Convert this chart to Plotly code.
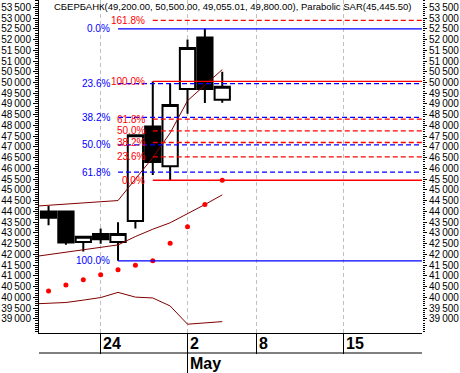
import plotly.graph_objects as go

# ---------------- data ----------------
day_idx = list(range(11))               # trading days: Apr 19 .. May 4
open_ = [44000, 44000, 42580, 42950, 42580, 43550, 47950, 46100, 49700, 52100, 49200]
high = [44250, 44000, 42820, 43200, 43500, 47560, 50050, 49930, 52000, 52500, 50500]
low = [43350, 42450, 42130, 42500, 41700, 43200, 45700, 45450, 48550, 49050, 49055.01]
close = [43700, 42550, 42820, 42700, 42950, 47550, 46300, 48950, 51600, 49700, 49800]

sar = [40300, 40580, 40820, 41050, 41280, 41490, 41700, 42520, 43280, 44320, 45445.50]

band_idx = list(range(-1, 11))
bb_upper = [44230, 44285, 44340, 44395, 44450, 44505, 45510, 46500, 47650, 49150, 49880, 50600]
bb_mid = [41875, 41990, 42100, 42215, 42330, 42440, 42830, 43170, 43470, 43880, 44320, 44770]
bb_lower = [39690, 39730, 39760, 39870, 39990, 40230, 40010, 39970, 39600, 38750, 38825, 38870]

date_tick_idx = [3, 8, 12, 17]
date_tick_text = ["24", "2", "8", "15"]
month_tick_idx = [8]
month_tick_text = ["May"]

price_ticks = list(range(39000, 54000, 500))
price_tick_text = [f"{v // 1000}\u2009{v % 1000:03d}" for v in price_ticks]

# Fibonacci retracements
blue_ratios = [0.0, 23.6, 38.2, 50.0, 61.8, 100.0]
red_ratios = [0.0, 23.6, 38.2, 50.0, 61.8, 100.0, 161.8]
blue_hi_i, blue_lo_i = 9, 4
red_hi_i, red_lo_i = 6, 7

X_RANGE = [-0.55, 21.5]
Y_RANGE = [38340, 53840]
FONT = "Liberation Sans, Arial, sans-serif"

fig = go.Figure()

fig.add_trace(go.Candlestick(
    x=day_idx, open=open_, high=high, low=low, close=close,
    increasing=dict(line=dict(color="black", width=2), fillcolor="white"),
    decreasing=dict(line=dict(color="black", width=2), fillcolor="black"),
    whiskerwidth=0, showlegend=False, hoverinfo="skip",
))

for band in (bb_upper, bb_mid, bb_lower):
    fig.add_trace(go.Scatter(x=band_idx, y=band, mode="lines",
                             line=dict(color="#800000", width=1),
                             showlegend=False, hoverinfo="skip"))

fig.add_trace(go.Scatter(x=day_idx, y=sar, mode="markers",
                         marker=dict(color="#ff0000", size=5, symbol="circle"),
                         showlegend=False, hoverinfo="skip"))

# invisible trace to carry the right-hand axis
fig.add_trace(go.Scatter(x=[None], y=[None], yaxis="y2", showlegend=False, hoverinfo="skip"))

# blue fib set
b_hi, b_lo = high[blue_hi_i], low[blue_lo_i]
for r in blue_ratios:
    lvl = b_hi - r / 100 * (b_hi - b_lo)
    solid = r in (0.0, 100.0)
    fig.add_shape(type="line", xref="x", yref="y", x0=blue_lo_i, x1=X_RANGE[1] + 1,
                  y0=lvl, y1=lvl,
                  line=dict(color="#0000ff", width=1.3, dash="solid" if solid else "5px,3px"))
    fig.add_annotation(x=blue_lo_i, y=lvl, xref="x", yref="y", text=f"{r:.1f}%",
                       showarrow=False, xanchor="right", yanchor="middle", xshift=-6,
                       font=dict(family=FONT, size=10, color="#0000ff"))

# red fib set
r_hi, r_lo = high[red_hi_i], low[red_lo_i]
for r in red_ratios:
    lvl = r_lo + r / 100 * (r_hi - r_lo)
    solid = r in (0.0, 100.0)
    fig.add_shape(type="line", xref="x", yref="y", x0=red_hi_i, x1=X_RANGE[1] + 1,
                  y0=lvl, y1=lvl,
                  line=dict(color="#ff0000", width=1.3, dash="solid" if solid else "5px,3px"))
    fig.add_annotation(x=red_hi_i, y=lvl, xref="x", yref="y", text=f"{r:.1f}%",
                       showarrow=False, xanchor="right", yanchor="middle", xshift=-6,
                       font=dict(family=FONT, size=10, color="#ff0000"))

# date row labels
plot_h = 333.0
for xi, t in zip(date_tick_idx, date_tick_text):
    fig.add_annotation(x=xi, y=-10 / plot_h, xref="x", yref="paper", text=f"<b>{t}</b>",
                       showarrow=False, xanchor="left", yanchor="middle", xshift=0,
                       font=dict(family=FONT, size=16, color="black"))
for xi, t in zip(month_tick_idx, month_tick_text):
    fig.add_annotation(x=xi, y=-30 / plot_h, xref="x", yref="paper", text=f"<b>{t}</b>",
                       showarrow=False, xanchor="left", yanchor="middle", xshift=0,
                       font=dict(family=FONT, size=16, color="black"))
    fig.add_shape(type="line", xref="x", yref="paper", x0=xi, x1=xi,
                  y0=-20 / plot_h, y1=-42 / plot_h, line=dict(color="black", width=1))
fig.add_shape(type="line", xref="paper", yref="paper", x0=0, x1=1,
              y0=-20 / plot_h, y1=-20 / plot_h, line=dict(color="black", width=1))

def fmt(v):
    return f"{v:,.2f}"

title = (f"СБЕРБАНК({fmt(open_[-1])}, {fmt(high[-1])}, {fmt(low[-1])}, {fmt(close[-1])}), "
         f"Parabolic SAR({fmt(sar[-1])})")
fig.add_annotation(x=0.035, y=1 - 7 / plot_h, xref="paper", yref="paper", text=title,
                   showarrow=False, xanchor="left", yanchor="middle",
                   font=dict(family=FONT, size=9.5, color="black"))

yaxis_common = dict(
    range=Y_RANGE, tickmode="array", tickvals=price_ticks, ticktext=price_tick_text,
    ticks="outside", tickcolor="black", tickwidth=1, automargin=False,
    tickfont=dict(family=FONT, size=10, color="black"),
    showgrid=False, zeroline=False,
    minor=dict(ticks="outside", tickmode="linear", tick0=0, dtick=100,
               tickcolor="black", tickwidth=1, showgrid=False),
)

fig.update_layout(
    width=460, height=373,
    margin=dict(l=39, r=38, t=0, b=40, pad=0, autoexpand=False),
    paper_bgcolor="white", plot_bgcolor="white",
    boxgap=0.12, boxgroupgap=0,
    showlegend=False,
    xaxis=dict(range=X_RANGE, type="linear", rangeslider=dict(visible=False),
               automargin=False,
               showline=True, linecolor="black", linewidth=1,
               tickmode="array", tickvals=date_tick_idx, showticklabels=False,
               ticks="outside", ticklen=20, tickcolor="black", tickwidth=1,
               showgrid=True, gridcolor="#c0c0c0", gridwidth=1, griddash="4px,3px",
               zeroline=False),
    yaxis=dict(side="left", showline=True, linecolor="black", linewidth=1,
               ticklen=5, **yaxis_common),
    yaxis2=dict(side="right", overlaying="y", showline=False, ticklen=4,
                **yaxis_common),
)
fig.update_layout(yaxis_minor_ticklen=3, yaxis2_minor_ticklen=2)

fig.write_html("out.html", config={"displayModeBar": False},
               post_script="document.body.style.margin='0';document.body.style.overflow='hidden';")
